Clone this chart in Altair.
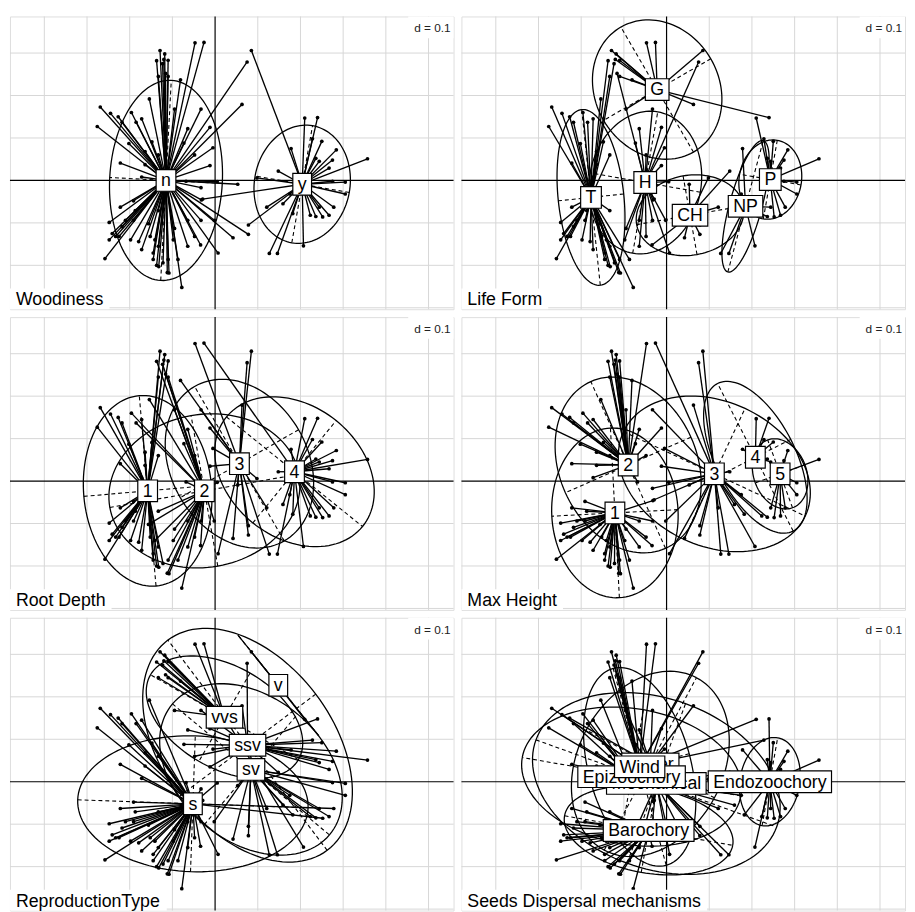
import altair as alt
import pandas as pd
import numpy as np

# ---------------- data ----------------
# species scores (same in all six panels)
PX = [-0.129, -0.118, -0.120, -0.137, -0.116, -0.047, -0.026, -0.081, 0.075, 0.085,
      0.063, -0.269, -0.245, -0.227, -0.196, -0.276, -0.185, -0.154, -0.202, -0.222,
      -0.012, -0.073, -0.005, -0.012, -0.172, -0.068, 0.053, 0.005, -0.248, -0.241,
      -0.248, -0.258, -0.191, -0.179, -0.172, -0.141, -0.137, -0.132, -0.112, -0.108,
      -0.078, -0.095, -0.034, -0.032, -0.002, 0.007, 0.042, 0.078, -0.210, -0.222,
      -0.156, -0.064, -0.048, -0.133, 0.210, 0.240, 0.228, 0.250, 0.284, 0.357,
      0.305, 0.305, 0.278, 0.267, 0.252, 0.236, 0.223, 0.207, 0.146, 0.127,
      0.182, 0.121, 0.159, 0.148, 0.098, 0.078, -0.029, 0.267, 0.244, 0.275,
      0.178, -0.123, -0.110, -0.133, -0.164, -0.110, -0.098, -0.145, -0.191, -0.225,
      -0.033, -0.064, -0.148, -0.233, -0.198, -0.152, -0.145, -0.122, -0.187, -0.218,
      -0.133, -0.087, -0.064, -0.110, -0.133, -0.172, -0.218, -0.095, -0.033, -0.164,
      -0.048, -0.033, 0.236, 0.244, 0.175, 0.275]
PY = [0.306, 0.298, 0.285, 0.282, 0.252, 0.324, 0.325, 0.237, 0.279, 0.306,
      0.179, 0.173, 0.158, 0.150, 0.160, 0.127, 0.137, 0.192, 0.087, 0.041,
      0.125, 0.088, 0.077, 0.035, 0.008, -0.002, -0.009, -0.003, -0.099, -0.125,
      -0.140, -0.184, -0.048, -0.144, -0.163, -0.140, -0.200, -0.203, -0.217, -0.218,
      -0.252, -0.113, -0.152, -0.046, -0.094, -0.171, -0.135, -0.127, -0.094, -0.063,
      -0.102, -0.094, -0.132, -0.071, 0.147, 0.148, 0.098, 0.092, 0.072, 0.051,
      -0.004, -0.032, -0.063, -0.082, -0.086, -0.085, -0.082, -0.154, -0.172, -0.172,
      -0.078, -0.063, -0.055, 0.022, 0.006, -0.105, -0.044, 0.029, 0.045, -0.002,
      0.075, 0.275, 0.245, 0.060, 0.037, -0.186, -0.140, -0.171, -0.094, -0.132,
      -0.017, 0.122, 0.091, -0.132, -0.140, -0.132, -0.186, -0.194, -0.071, -0.109,
      -0.155, -0.186, -0.155, 0.283, 0.245, 0.145, 0.137, 0.168, 0.168, 0.068,
      0.060, -0.094, 0.052, -0.063, -0.032, 0.048]

# class membership (1-based species numbers); None = all remaining species
WOODINESS = {"n": None, "y": [10] + list(range(55, 82)) + [113, 114, 115, 116]}
LIFE_FORM = {"T": None,
             "H": [5, 9, 21, 22, 23, 24, 26, 28, 42, 44, 45, 46, 52, 53, 77, 87, 91, 92,
                   103, 109, 111, 112],
             "G": [1, 2, 3, 6, 7, 8, 10, 11, 56, 83, 104, 108],
             "CH": [27, 43, 47, 48, 72, 74, 75, 76],
             "NP": [66, 67, 68, 69, 70, 71, 73, 81, 114, 115],
             "P": [55, 57, 58, 59, 60, 61, 62, 63, 64, 65, 78, 79, 80, 113, 116]}
ROOT_DEPTH = {"1": [1, 2, 3, 12, 13, 14, 16, 19, 20, 25, 29, 30, 31, 32, 33, 34, 35, 37, 38,
                    49, 50, 84, 85, 88, 89, 90, 93] + list(range(94, 102)) + [104, 105, 106, 107, 110],
              "2": None,
              "3": [6, 8, 9, 10, 11, 21, 23, 24, 27, 46, 47, 48, 70, 72, 75, 76, 109],
              "4": [7] + list(range(55, 70)) + [71, 73, 74, 78, 79, 80, 81, 113, 114, 115, 116]}
MAX_HEIGHT = {"1": list(range(29, 45)) + [49, 50, 51, 52, 53, 54, 86, 87, 88, 89, 90]
                   + list(range(94, 104)) + [112],
              "2": [1, 2, 3, 4, 5, 6, 8] + list(range(12, 23)) + [25, 26, 82, 83, 84, 85, 92, 93,
                                                                    104, 105, 106, 107, 108, 110, 111],
              "3": None,
              "4": [55, 56, 57, 58, 79, 81, 113],
              "5": [59, 60, 61, 62, 63, 64, 65, 78, 80, 114, 116]}
REPRO = {"s": None,
         "sv": [27, 45, 47, 48, 61, 62, 64, 66, 67, 69, 70, 71, 72, 73, 76, 80, 114, 115],
         "ssv": [9, 11, 21, 22, 23, 24, 56, 57, 58, 59, 60, 74, 75, 78, 79, 81, 92, 109, 111, 113, 116],
         "vvs": [1, 2, 3, 4, 5, 6, 7, 8, 82, 83, 68, 104, 105, 108],
         "v": [10, 55]}
SEEDS = {"Mechanical": None,
         "Water": [11, 14, 21, 22, 23, 24, 57, 92, 108, 109, 111],
         "Epizoochory": [15, 16, 17, 18, 19, 20, 25, 26, 84, 85, 93, 106, 107, 110],
         "Wind": [1, 2, 3, 4, 5, 6, 7, 8, 9, 10, 12, 13, 55, 82, 83, 104, 105],
         "Barochory": list(range(29, 44)) + [49, 50, 51, 53, 54, 86, 87, 88, 89, 90]
                      + list(range(94, 103)),
         "Endozoochory": [56, 58, 59, 60, 61, 62, 63, 64, 65, 66, 67, 68, 71, 78, 79, 80, 81,
                          113, 114, 116]}

# class centres (x, y)
C_WOOD = {"n": (-0.115, 0.000), "y": (0.204, -0.009)}
C_LIFE = {"T": (-0.177, -0.040), "H": (-0.050, -0.005), "G": (-0.022, 0.214),
          "CH": (0.055, -0.082), "NP": (0.185, -0.061), "P": (0.243, 0.002)}
C_ROOT = {"1": (-0.158, -0.023), "2": (-0.025, -0.023), "3": (0.057, 0.041), "4": (0.186, 0.022)}
C_HEIGHT = {"1": (-0.121, -0.075), "2": (-0.090, 0.038), "3": (0.112, 0.017),
            "4": (0.208, 0.056), "5": (0.266, 0.017)}
C_REPRO = {"s": (-0.052, -0.052), "sv": (0.084, 0.029), "ssv": (0.076, 0.086),
           "vvs": (0.022, 0.152), "v": (0.148, 0.227)}
C_SEEDS = {"Mechanical": (-0.024, -0.004), "Water": (-0.038, 0.042), "Epizoochory": (-0.082, 0.012),
           "Wind": (-0.063, 0.035), "Barochory": (-0.042, -0.115), "Endozoochory": (0.242, 0.000)}

# ellipses: half major axis, half minor axis, angle of major axis (degrees)
E_WOOD = {"n": (0.236, 0.132, 87), "y": (0.140, 0.112, 80)}
E_LIFE = {"T": (0.208, 0.077, 96), "H": (0.169, 0.131, 80), "G": (0.170, 0.145, 120),
          "CH": (0.127, 0.094, 10), "NP": (0.160, 0.038, 75), "P": (0.094, 0.073, 80)}
E_ROOT = {"1": (0.225, 0.150, 95), "2": (0.225, 0.180, 10), "3": (0.210, 0.160, 120),
          "4": (0.205, 0.155, -39)}
E_HEIGHT = {"1": (0.200, 0.148, 93), "2": (0.215, 0.161, 114), "3": (0.235, 0.170, -25),
            "4": (0.195, 0.093, 117), "5": (0.085, 0.062, 110)}
E_REPRO = {"s": (0.270, 0.160, -2), "sv": (0.240, 0.170, -40), "ssv": (0.310, 0.200, 127),
           "vvs": (0.200, 0.120, 150), "v": (0.152, 0.0, 128.6)}
E_SEEDS = {"Mechanical": (0.300, 0.200, -20), "Water": (0.230, 0.170, 62),
           "Epizoochory": (0.260, 0.160, 170), "Wind": (0.240, 0.120, 105),
           "Barochory": (0.200, 0.100, -10), "Endozoochory": (0.105, 0.070, 80)}

PANELS = [("Woodiness", WOODINESS, C_WOOD, E_WOOD),
          ("Life Form", LIFE_FORM, C_LIFE, E_LIFE),
          ("Root Depth", ROOT_DEPTH, C_ROOT, E_ROOT),
          ("Max Height", MAX_HEIGHT, C_HEIGHT, E_HEIGHT),
          ("ReproductionType", REPRO, C_REPRO, E_REPRO),
          ("Seeds Dispersal mechanisms", SEEDS, C_SEEDS, E_SEEDS)]

GRID_X = [-0.4, -0.3, -0.2, -0.1, 0.1, 0.2, 0.3, 0.4, 0.5]
GRID_Y = [-0.3, -0.2, -0.1, 0.1, 0.2, 0.3]
X_DOMAIN = [-0.4805, 0.5586]
Y_DOMAIN = [-0.3034, 0.3862]

# ---------------- layout ----------------
W, H = 450, 297
PXU = W / (X_DOMAIN[1] - X_DOMAIN[0])
PYU = H / (Y_DOMAIN[1] - Y_DOMAIN[0])
FONT = "Liberation Sans"
LABEL_SIZE = 18

AW = {' ': 278, '=': 584, '.': 278, 'A': 667, 'B': 667, 'C': 722, 'D': 722, 'E': 667, 'F': 611,
      'G': 778, 'H': 722, 'I': 278, 'L': 556, 'M': 833, 'N': 722, 'P': 667, 'R': 722, 'S': 667,
      'T': 611, 'V': 667, 'W': 944, 'a': 556, 'b': 556, 'c': 500, 'd': 556, 'e': 556, 'f': 278,
      'g': 556, 'h': 556, 'i': 222, 'j': 222, 'k': 500, 'l': 222, 'm': 833, 'n': 556, 'o': 556,
      'p': 556, 'q': 556, 'r': 333, 's': 500, 't': 278, 'u': 556, 'v': 500, 'w': 722, 'x': 500,
      'y': 500, 'z': 500}


def text_w(s, size):
    return sum(AW.get(c, 556) for c in s) * size / 1000.0


xs = alt.Scale(domain=X_DOMAIN, nice=False, zero=False)
ys = alt.Scale(domain=Y_DOMAIN, nice=False, zero=False)


def X(f):
    return alt.X(f, type="quantitative", scale=xs, axis=None)


def Y(f):
    return alt.Y(f, type="quantitative", scale=ys, axis=None)


def members(groups):
    n = len(PX)
    assigned = set()
    for k, v in groups.items():
        if v is not None:
            assigned.update(v)
    out = {}
    for k, v in groups.items():
        if v is None:
            out[k] = [i for i in range(1, n + 1) if i not in assigned]
        else:
            out[k] = v
    return out


def panel(title, groups, centers, ells):
    mem = members(groups)
    layers = []
    gx = pd.DataFrame({"x": GRID_X})
    gy = pd.DataFrame({"y": GRID_Y})
    layers.append(alt.Chart(gx).mark_rule(color="#d6d6d6", strokeWidth=1).encode(
        x=X("x"), y=alt.value(0), y2=alt.value(H)))
    layers.append(alt.Chart(gy).mark_rule(color="#d6d6d6", strokeWidth=1).encode(
        y=Y("y"), x=alt.value(0), x2=alt.value(W)))
    layers.append(alt.Chart(pd.DataFrame({"x": [0.0]})).mark_rule(color="black", strokeWidth=1.2).encode(
        x=X("x"), y=alt.value(0), y2=alt.value(H)))
    layers.append(alt.Chart(pd.DataFrame({"y": [0.0]})).mark_rule(color="black", strokeWidth=1.2).encode(
        y=Y("y"), x=alt.value(0), x2=alt.value(W)))

    # ellipses and their axes
    rows, ax_rows = [], []
    t = np.linspace(0, 2 * np.pi, 121)
    for k, (a, b, th) in ells.items():
        cx, cy = centers[k]
        r = np.radians(th)
        ex = cx + a * np.cos(r) * np.cos(t) - b * np.sin(r) * np.sin(t)
        ey = cy + a * np.sin(r) * np.cos(t) + b * np.cos(r) * np.sin(t)
        for i in range(len(t)):
            rows.append({"x": ex[i], "y": ey[i], "g": k, "i": i})
        ux, uy = np.cos(r), np.sin(r)
        ax_rows.append({"x": cx - a * ux, "y": cy - a * uy, "x2": cx + a * ux, "y2": cy + a * uy})
        if b > 0:
            ax_rows.append({"x": cx + b * uy, "y": cy - b * ux, "x2": cx - b * uy, "y2": cy + b * ux})
    layers.append(alt.Chart(pd.DataFrame(rows)).mark_line(color="black", strokeWidth=1.3, clip=True).encode(
        x=X("x"), y=Y("y"), detail="g:N", order="i:Q"))
    layers.append(alt.Chart(pd.DataFrame(ax_rows)).mark_rule(color="black", strokeWidth=1.1,
                                                             strokeDash=[4, 3], clip=True).encode(
        x=X("x"), y=Y("y"), x2="x2:Q", y2="y2:Q"))

    # segments species -> centre
    seg = []
    for k, idx in mem.items():
        cx, cy = centers[k]
        for i in idx:
            seg.append({"x": PX[i - 1], "y": PY[i - 1], "x2": cx, "y2": cy})
    sdf = pd.DataFrame(seg)
    layers.append(alt.Chart(sdf).mark_rule(color="black", strokeWidth=1.35).encode(
        x=X("x"), y=Y("y"), x2="x2:Q", y2="y2:Q"))
    layers.append(alt.Chart(pd.DataFrame({"x": PX, "y": PY})).mark_circle(
        color="black", size=14, opacity=1).encode(x=X("x"), y=Y("y")))

    # class labels (boxed), drawn in order so later boxes hide earlier ones
    for k in groups.keys():
        cx, cy = centers[k]
        hw = (text_w(k, LABEL_SIZE) / 2 + 5) / PXU
        hh = 11 / PYU
        d = pd.DataFrame({"x": [cx - hw], "x2": [cx + hw], "y": [cy - hh], "y2": [cy + hh],
                          "cx": [cx], "cy": [cy], "lab": [k]})
        layers.append(alt.Chart(d).mark_rect(fill="white", stroke="black", strokeWidth=1.2).encode(
            x=X("x"), x2="x2:Q", y=Y("y"), y2="y2:Q"))
        layers.append(alt.Chart(d).mark_text(font=FONT, fontSize=LABEL_SIZE, color="black",
                                             align="center", baseline="middle", dy=1).encode(
            x=X("cx"), y=Y("cy"), text="lab:N"))

    # panel title (bottom-left, white background)
    tw_ = text_w(title, 18)
    one = pd.DataFrame({"t": [title]})
    layers.append(alt.Chart(one).mark_rect(fill="white").encode(
        x=alt.value(0), x2=alt.value(tw_ + 12), y=alt.value(H - 21), y2=alt.value(H)))
    layers.append(alt.Chart(one).mark_text(font=FONT, fontSize=18, color="black", align="left",
                                           baseline="alphabetic").encode(
        x=alt.value(6), y=alt.value(H - 4), text="t:N"))
    dd = pd.DataFrame({"t": ["d = 0.1"]})
    layers.append(alt.Chart(dd).mark_rect(fill="white").encode(
        x=alt.value(W - 46), x2=alt.value(W), y=alt.value(0), y2=alt.value(22)))
    layers.append(alt.Chart(dd).mark_text(font=FONT, fontSize=12, color="#222", align="right",
                                          baseline="alphabetic").encode(
        x=alt.value(W - 3), y=alt.value(16), text="t:N"))
    return alt.layer(*layers).properties(width=W, height=H)


charts = [panel(*p) for p in PANELS]
rows = [alt.hconcat(charts[0], charts[1], spacing=4),
        alt.hconcat(charts[2], charts[3], spacing=4),
        alt.hconcat(charts[4], charts[5], spacing=4)]
chart = alt.vconcat(*rows, spacing=4).properties(padding=0).configure_view(
    stroke="#111", strokeWidth=1.5).configure(background="white")

chart.save("out.html", embed_options={"renderer": "svg", "actions": False})
